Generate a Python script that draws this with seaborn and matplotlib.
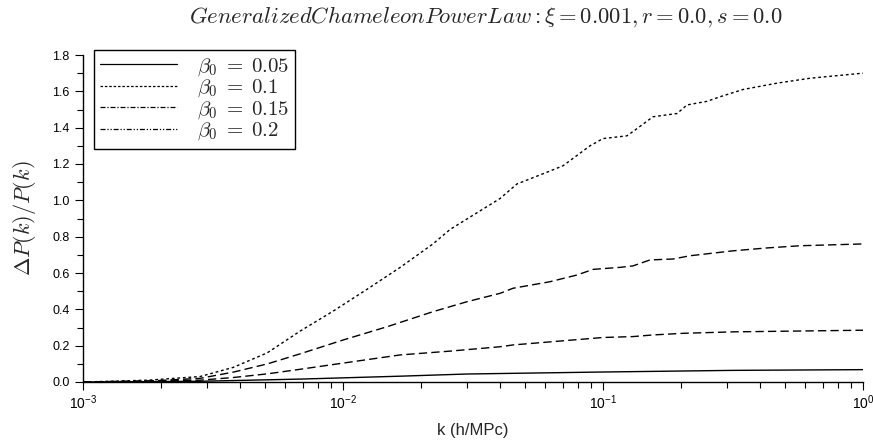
import numpy as np
import pandas as pd
import matplotlib
matplotlib.use("Agg")
import matplotlib.pyplot as plt
import seaborn as sns
from matplotlib.lines import Line2D
from matplotlib.ticker import LogLocator, MultipleLocator, FormatStrFormatter

# ---- data ----
labels = [r"$\beta_0\;=\;0.05$", r"$\beta_0\;=\;0.1$", r"$\beta_0\;=\;0.15$", r"$\beta_0\;=\;0.2$"]

logk_a = [-3.0, -2.55, -2.165, -1.78, -1.523, -1.0, -0.5, 0.0]
dp_005 = [0.0, 0.004, 0.016, 0.032, 0.044, 0.055, 0.064, 0.068]

logk_b = [-3.0, -2.55, -2.42, -2.29, -2.165, -2.0, -1.78, -1.588, -1.396, -1.346, -1.0, -0.885, -0.808, -0.692, -0.5, 0.0]
dp_010 = [0.0, 0.01, 0.025, 0.045, 0.07, 0.104, 0.149, 0.17, 0.194, 0.204, 0.245, 0.25, 0.259, 0.268, 0.276, 0.285]

logk_c = [-3.0, -2.75, -2.55, -2.42, -2.29, -2.165, -2.0, -1.831, -1.654, -1.523, -1.396, -1.346, -1.204, -1.1, -1.038,
          -0.935, -0.885, -0.819, -0.731, -0.665, -0.5, -0.369, -0.242, 0.0]
dp_015 = [0.0, 0.005, 0.02, 0.055, 0.1, 0.155, 0.231, 0.304, 0.387, 0.442, 0.488, 0.516, 0.552, 0.589, 0.62,
          0.631, 0.639, 0.672, 0.677, 0.695, 0.722, 0.738, 0.75, 0.76]

logk_d = [-3.0, -2.75, -2.55, -2.423, -2.292, -2.165, -2.038, -1.908, -1.781, -1.654, -1.588, -1.396, -1.331, -1.215,
          -1.154, -1.05, -1.0, -0.908, -0.869, -0.808, -0.715, -0.677, -0.6, -0.55, -0.462, -0.331, -0.204, 0.0]
dp_020 = [0.0, 0.01, 0.03, 0.08, 0.16, 0.28, 0.39, 0.51, 0.63, 0.76, 0.84, 1.01, 1.09, 1.155,
          1.19, 1.30, 1.34, 1.355, 1.395, 1.46, 1.478, 1.525, 1.545, 1.57, 1.61, 1.645, 1.672, 1.70]

title = r"$GeneralizedChameleonPowerLaw: \xi = 0.001, r = 0.0, s = 0.0$"
xlabel = "k (h/MPc)"
ylabel = r"$\Delta P(k)/P(k)$"

series = [(logk_a, dp_005), (logk_b, dp_010), (logk_c, dp_015), (logk_d, dp_020)]
plot_dashes = [None, (6, 3), (6, 3), (2, 2)]
legend_dashes = [None, (2, 1.5), (4, 1.5, 1, 1.5), (4, 1.5, 1, 1.5, 1, 1.5)]

# ---- style ----
sns.set_theme(style="ticks")
plt.rcParams["font.family"] = ["Liberation Sans", "DejaVu Sans"]
plt.rcParams["mathtext.fontset"] = "cm"

W, H = 873, 445
fig = plt.figure(figsize=(W / 100, H / 100), dpi=100)
x0, x1, y0, y1 = 83, 863, 55, 382
ax = fig.add_axes([x0 / W, 1 - y1 / H, (x1 - x0) / W, (y1 - y0) / H])

for (lk, vals), ds in zip(series, plot_dashes):
    df = pd.DataFrame({"k": 10 ** np.array(lk), "v": vals})
    sns.lineplot(data=df, x="k", y="v", ax=ax, legend=False, color="black", linewidth=1.0)
    if ds is not None:
        ax.lines[-1].set_dashes(ds)

ax.set_xscale("log")
ax.set_xlim(1e-3, 1)
ax.set_ylim(0, 1.8)
ax.yaxis.set_major_locator(MultipleLocator(0.2))
ax.yaxis.set_minor_locator(MultipleLocator(0.1))
ax.yaxis.set_major_formatter(FormatStrFormatter("%.1f"))
ax.xaxis.set_major_locator(LogLocator(base=10, numticks=10))
ax.xaxis.set_minor_locator(LogLocator(base=10, subs=np.arange(2, 10), numticks=20))

sns.despine(ax=ax)
for sp in ["left", "bottom"]:
    ax.spines[sp].set_linewidth(1.0)
    ax.spines[sp].set_color("black")
ax.tick_params(axis="both", which="major", direction="out", length=6, width=0.8, colors="black", labelsize=9)
ax.tick_params(axis="both", which="minor", direction="out", length=4, width=0.8, colors="black")
ax.tick_params(axis="x", which="major", pad=2, labelsize=10)

ax.set_xlabel(xlabel, fontsize=12)
ax.xaxis.set_label_coords(0.5, (y1 - 423) / (y1 - y0))
ax.set_ylabel(ylabel, fontsize=16, va="center")
ax.yaxis.set_label_coords((25 - x0) / (x1 - x0), 0.5)
fig.text(486 / W, 1 - 17 / H, title, ha="center", va="center", fontsize=16.3)

handles = []
for ds in legend_dashes:
    h = Line2D([0], [0], color="black", linewidth=0.9)
    if ds is not None:
        h.set_dashes(ds)
    handles.append(h)
leg = fig.legend(handles, labels, loc="upper left", bbox_to_anchor=(94 / W, 1 - 50 / H),
                 fontsize=15, frameon=True, fancybox=False, handlelength=3.7,
                 borderpad=0.3, labelspacing=0.0, handletextpad=0.95, borderaxespad=0)
leg.get_frame().set_edgecolor("black")
leg.get_frame().set_linewidth(1.0)
leg.get_frame().set_alpha(1)

fig.savefig("out.png", dpi=100)
